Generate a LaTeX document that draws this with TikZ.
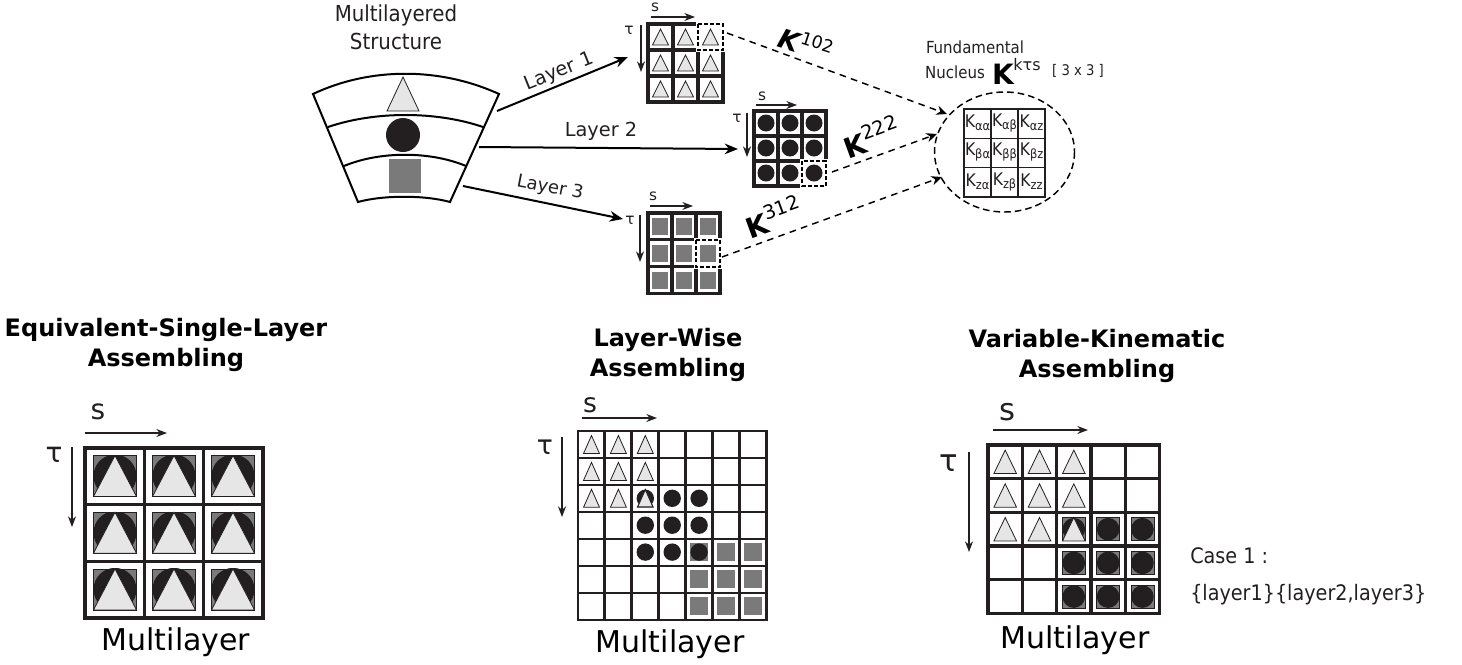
\documentclass[tikz,border=0pt]{standalone}
\usepackage{fontspec}
\setmainfont{DejaVu Sans}
\newfontfamily\condf{DejaVu Sans Condensed}
\usetikzlibrary{arrows.meta}
\definecolor{ink}{HTML}{231F20}
\definecolor{trif}{HTML}{E6E6E6}
\definecolor{sqf}{HTML}{7A7A7A}
\newcommand{\fsz}[1]{\fontsize{#1}{#1}\selectfont}
% grid: x0 y0 cellw cellh cols rows linewidth
\newcommand{\cellgrid}[7]{%
  \foreach \ci in {0,...,#5}{\draw[ink,line width=#7] ({#1+\ci*#3},#2) -- ({#1+\ci*#3},{#2+#6*#4});}
  \foreach \cj in {0,...,#6}{\draw[ink,line width=#7,line cap=rect] (#1,{#2+\cj*#4}) -- ({#1+#5*#3},{#2+\cj*#4});}
}
% symbols: centre x, centre y, half width, half height
\newcommand{\tricell}[4]{\draw[trist] ({#1},{#2-#4}) -- ({#1-#3},{#2+#4}) -- ({#1+#3},{#2+#4}) -- cycle;}
\newcommand{\circell}[3]{\fill[ink] ({#1},{#2}) circle[radius=#3];}
\newcommand{\sqcell}[4]{\fill[sqf] ({#1-#3},{#2-#4}) rectangle ({#1+#3},{#2+#4});}
\newcommand{\kc}[1]{K\raisebox{-0.3ex}{\fsz{9.5}#1}}
\tikzset{
  x=0.75pt,y=-0.75pt,
  trist/.style={fill=trif,draw=ink,line width=0.6pt,line join=miter},
  txt/.style={inner sep=0pt,text=ink,font=\fsz{14.5}},
  ctxt/.style={inner sep=0pt,text=ink,font=\condf\fsz{14}},
  bighead/.style={inner sep=0pt,align=center,text=black,font=\bfseries\fsz{18},text depth=0pt},
  multi/.style={inner sep=0pt,text=black,font=\fsz{22.5}},
  bigarrow/.style={draw=black,line width=1.5pt,-{Stealth[length=10pt,width=8pt]}},
  axis/.style={draw=ink,line width=0.9pt,-{Stealth[length=8pt,width=6pt]}},
  dasharrow/.style={draw=black,line width=1.1pt,dash pattern=on 5pt off 4pt,-{Stealth[length=8pt,width=7pt]}},
}
\begin{document}
\begin{tikzpicture}
\useasboundingbox (0,0) rectangle (1462,664);
% ---- wedge
\draw[black,line width=1.5pt,line join=miter]
  (313,94) .. controls (370,67) and (440,67) .. (499,94) -- (450,202)
  .. controls (425,195) and (383,195) .. (358,202) -- cycle;
\draw[black,line width=1.5pt] (328,127) .. controls (375,111) and (436,111) .. (483,127);
\draw[black,line width=1.5pt] (344,166) .. controls (380,151) and (430,151) .. (466,166);
\tricell{403}{94}{16}{17}
\circell{403}{135}{17}
\sqcell{405}{176}{16}{17}
% ---- top grids
\foreach \c in {0,1,2}\foreach \r in {0,1,2}{\tricell{660.5+\c*25}{37+\r*26}{8}{8}}
\cellgrid{648}{24}{25}{26}{3}{3}{2.3pt}
\draw[white,line width=2.3pt] (698,24) rectangle (723,50);
\draw[black,line width=1.5pt,dash pattern=on 3pt off 1.6pt] (698,24) rectangle (723,50);
\foreach \c in {0,1,2}\foreach \r in {0,1,2}{\circell{766+\c*24}{123+\r*25}{8.5}}
\cellgrid{754}{111}{24}{25}{3}{3}{2.3pt}
\draw[white,line width=2.3pt] (802,161) rectangle (826,186);
\draw[black,line width=1.5pt,dash pattern=on 3pt off 1.6pt] (802,161) rectangle (826,186);
\foreach \c in {0,1,2}\foreach \r in {0,1,2}{\sqcell{660+\c*24}{226+\r*27}{8}{8.5}}
\cellgrid{648}{213}{24}{26.7}{3}{3}{2.3pt}
\draw[white,line width=2.3pt] (696,240) rectangle (720,267);
\draw[black,line width=1.5pt,dash pattern=on 3pt off 1.6pt] (696,240) rectangle (720,267);
% ---- top labels
\node[txt,font=\condf\fsz{16.5}] (mls1) at (396,15) {Multilayered};
\node[txt,font=\condf\fsz{16.5}] (mls2) at (396,41) {Structure};
\node[txt,rotate=22] (lay1) at (559,72) {Layer 1};
\node[txt] (lay2) at (601,131) {Layer 2};
\node[txt,rotate=-11,font=\fsz{13.5}] (lay3) at (550,188) {Layer 3};
\coordinate (a1s) at (497,111); \coordinate (a1e) at (628,57);
\coordinate (a2s) at (479,147); \coordinate (a2e) at (738,149);
\coordinate (a3s) at (463,186); \coordinate (a3e) at (623,219);
\draw[bigarrow] (a1s) -- (a1e);
\draw[bigarrow] (a2s) -- (a2e);
\draw[bigarrow] (a3s) -- (a3e);
% axes of the top grids
\node[txt,font=\fsz{11.5}] (s1) at (655,7) {s};
\node[txt,font=\fsz{11.5}] (t1) at (629,30) {τ};
\coordinate (s1a) at (651,17); \coordinate (s1b) at (695,17);
\coordinate (t1a) at (641,25); \coordinate (t1b) at (641,72);
\draw[axis] (s1a) -- (s1b); \draw[axis] (t1a) -- (t1b);
\node[txt,font=\fsz{11.5}] (s2) at (762,96) {s};
\node[txt,font=\fsz{11.5}] (t2) at (737,118) {τ};
\coordinate (s2a) at (756,105); \coordinate (s2b) at (797,105);
\coordinate (t2a) at (747,113); \coordinate (t2b) at (747,157);
\draw[axis] (s2a) -- (s2b); \draw[axis] (t2a) -- (t2b);
\node[txt,font=\fsz{11.5}] (s3) at (653,196) {s};
\node[txt,font=\fsz{11.5}] (t3) at (630,220) {τ};
\coordinate (s3a) at (650,206); \coordinate (s3b) at (693,206);
\coordinate (t3a) at (640,215); \coordinate (t3b) at (640,262);
\draw[axis] (s3a) -- (s3b); \draw[axis] (t3a) -- (t3b);
% ---- nucleus
\draw[black,line width=1.1pt,dash pattern=on 5pt off 3pt] (1004.5,152) ellipse[x radius=70,y radius=60];
\foreach \c/\r/\t in {0/0/αα,1/0/αβ,2/0/αz,0/1/βα,1/1/ββ,2/1/βz,0/2/zα,1/2/zβ,2/2/zz}{
  \node[inner sep=0pt,text=ink,font=\condf\fsz{13}] at ({977.5+\c*27},{123+\r*29.3}) {\kc{\t}};
}
\cellgrid{964}{109}{27}{29.3}{3}{3}{1.1pt}
\node[ctxt,font=\condf\fsz{12.5}] (fund) at (975,47) {Fundamental};
\node[ctxt,font=\condf\fsz{12.5}] (nuc) at (955,72) {Nucleus};
\node[inner sep=0pt,font=\bfseries\fsz{21}] (kk) at (1003,74) {K};
\node[ctxt,font=\fsz{12}] (ktau) at (1027,65) {kτs};
\node[ctxt,font=\condf\fsz{11}] (dim) at (1078,71) {[ 3 x 3 ]};
\coordinate (d1s) at (727,33); \coordinate (d1e) at (947,114);
\coordinate (d2s) at (832,172); \coordinate (d2e) at (937,134);
\coordinate (d3s) at (722,257); \coordinate (d3e) at (942,177);
\draw[dasharrow] (d1s) -- (d1e);
\draw[dasharrow] (d2s) -- (d2e);
\draw[dasharrow] (d3s) -- (d3e);
\node[inner sep=0pt,rotate=-18,text=black] (k102) at (806,44) {\fsz{20}\bfseries\itshape K\fsz{13}\raisebox{1.1ex}{\mdseries\upshape 102}};
\node[inner sep=0pt,rotate=20,text=black] (k222) at (871,137) {\fsz{21}\bfseries K\fsz{14.5}\raisebox{1.2ex}{\mdseries 222}};
\node[inner sep=0pt,rotate=20,text=black] (k312) at (773,217) {\fsz{21}\bfseries K\fsz{14.5}\raisebox{1.2ex}{\mdseries 312}};
% ---- headings
\node[bighead] (h1) at (166,342) {Equivalent-Single-Layer\\[4.5pt]Assembling};
\node[bighead] (h2) at (668,352) {Layer-Wise\\[4.5pt]Assembling};
\node[bighead] (h3) at (1097,353) {Variable-Kinematic\\[4.5pt]Assembling};
% ---- grid A
\foreach \c in {0,1,2}\foreach \r in {0,1,2}{
  \pgfmathsetmacro\cx{115+\c*59}\pgfmathsetmacro\cy{476+\r*56.7}
  \draw[fill=sqf,draw=ink,line width=0.5pt] (\cx-21.5,\cy-20.5) rectangle (\cx+21.5,\cy+20.5);
  \begin{scope}
    \clip (\cx-21.5,\cy-20.5) rectangle (\cx+21.5,\cy+20.5);
    \circell{\cx}{\cy}{21.5}
  \end{scope}
  \tricell{\cx}{\cy}{21.5}{20.5}
}
\cellgrid{85}{448}{59.3}{56.7}{3}{3}{2.6pt}
% ---- grid B
\foreach \c in {0,1,2}\foreach \r in {0,1,2}{\tricell{591.5+\c*26.9}{444.5+\r*26.9}{8}{9}}
\foreach \c/\r in {2/3,2/4,3/2,3/3,3/4,4/2,4/3}{\circell{591.5+\c*26.9}{444.5+\r*26.9}{8.7}}
\fill[ink] (645.3,498.3) circle[radius=8.7];
\tricell{645.3}{498.3}{7.5}{8.5}
\foreach \c/\r in {4/4,5/4,6/4,4/5,5/5,6/5,4/6,5/6,6/6}{\sqcell{591.5+\c*26.9}{444.5+\r*26.9}{8.8}{9.2}}
\circell{699.1}{552.1}{8.7}
\cellgrid{578}{431}{26.9}{27}{7}{7}{2.2pt}
% ---- grid C
\foreach \c in {0,1,2}\foreach \r in {0,1,2}{
  \ifnum\c\r=22\else\tricell{1005.2+\c*34.3}{461.8+\r*33.7}{11.3}{11.7}\fi}
\foreach \c/\r in {2/2,3/2,4/2,2/3,3/3,4/3,2/4,3/4,4/4}{
  \pgfmathsetmacro\cx{1005.2+\c*34.3}\pgfmathsetmacro\cy{461.8+\r*33.7}
  \draw[fill=sqf,draw=ink,line width=0.4pt] (\cx-11.5,\cy-11.5) rectangle (\cx+11.5,\cy+11.5);
  \circell{\cx}{\cy}{11.3}
}
\tricell{1073.8}{529.2}{11.3}{11.7}
\cellgrid{988}{445}{34.3}{33.7}{5}{5}{2.5pt}
% ---- bottom axes
\node[txt,font=\fsz{21}] (sa) at (98,412) {s};
\node[txt,font=\fsz{21}] (ta) at (54,455) {τ};
\coordinate (saa) at (85,433); \coordinate (sab) at (167,433);
\coordinate (taa) at (72,447); \coordinate (tab) at (72,527);
\draw[axis] (saa) -- (sab); \draw[axis] (taa) -- (tab);
\node[txt,font=\fsz{20}] (sb) at (590,405) {s};
\node[txt,font=\fsz{20}] (tb) at (545,447) {τ};
\coordinate (sba) at (582,418); \coordinate (sbb) at (657,418);
\coordinate (tba) at (562,437); \coordinate (tbb) at (562,517);
\draw[axis] (sba) -- (sbb); \draw[axis] (tba) -- (tbb);
\node[txt,font=\fsz{23}] (sc) at (1007,412) {s};
\node[txt,font=\fsz{23}] (tc) at (949,463) {τ};
\coordinate (sca) at (993,430); \coordinate (scb) at (1088,430);
\coordinate (tca) at (969,452); \coordinate (tcb) at (969,552);
\draw[axis] (sca) -- (scb); \draw[axis] (tca) -- (tcb);
% ---- captions
\node[multi] (ma) at (176,642) {Multilayer};
\node[multi] (mb) at (670,644) {Multilayer};
\node[multi] (mc) at (1075,640) {Multilayer};
\node[ctxt,anchor=west,font=\condf\fsz{16}] (case) at (1190,556) {Case 1 :};
\node[ctxt,anchor=west,font=\condf\fsz{16}] (set) at (1190,595) {\{layer1\}\{layer2,layer3\}};
\end{tikzpicture}
\end{document}
